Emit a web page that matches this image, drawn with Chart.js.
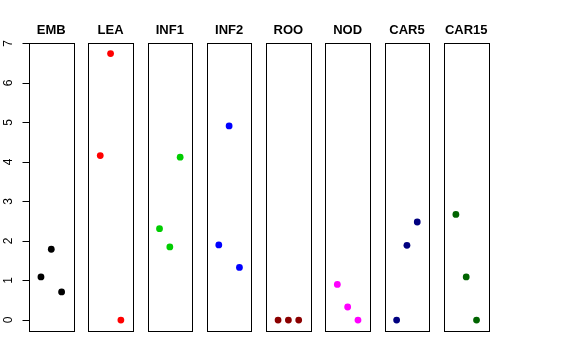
<!DOCTYPE html>
<html>
<head>
<meta charset="utf-8">
<script src="https://cdn.jsdelivr.net/npm/chart.js@4/dist/chart.umd.min.js"></script>
<style>
html,body{margin:0;padding:0;background:#fff;}
#wrap{width:576px;height:360px;}
</style>
</head>
<body>
<div id="wrap"><canvas id="c" width="576" height="360"></canvas></div>
<script>
// Data
const categories = ['EMB', 'LEA', 'INF1', 'INF2', 'ROO', 'NOD', 'CAR5', 'CAR15'];
const rep1 = [1.09, 4.16, 2.31, 1.90, 0, 0.90, 0, 2.67];
const rep2 = [1.79, 6.74, 1.85, 4.91, 0, 0.33, 1.89, 1.09];
const rep3 = [0.71, 0, 4.12, 1.33, 0, 0, 2.48, 0];
const colors = ['#000000', '#FF0000', '#00CD00', '#0000FF', '#8B0000', '#FF00FF', '#000080', '#006400'];
const yTicks = [0, 1, 2, 3, 4, 5, 6, 7];

// panel layout in x-units (each panel: xlim 0..4 with 4% extension)
const PW = 4.32;   // panel width
const PS = 5.745;  // panel step
const EXT = 0.16;

const datasets = categories.map((cat, i) => ({
  label: cat,
  data: [rep1[i], rep2[i], rep3[i]].map((v, k) => ({ x: i * PS + EXT + (k + 1), y: v })),
  backgroundColor: colors[i],
  borderColor: colors[i],
  pointRadius: 3.4,
  pointBorderWidth: 0,
  showLine: false
}));

const panelPlugin = {
  id: 'panels',
  afterDatasetsDraw(chart) {
    const ctx = chart.ctx;
    const xs = chart.scales.x, ys = chart.scales.y;
    const top = Math.round(ys.getPixelForValue(ys.max)) + 0.5;
    const bot = Math.round(ys.getPixelForValue(ys.min)) + 0.5;
    ctx.save();
    ctx.strokeStyle = '#000';
    ctx.lineWidth = 1;
    categories.forEach((cat, i) => {
      const l = Math.round(xs.getPixelForValue(i * PS)) + 0.5;
      const r = Math.round(xs.getPixelForValue(i * PS + PW)) + 0.5;
      ctx.strokeRect(l, top, r - l, bot - top);
      ctx.fillStyle = '#000';
      ctx.font = 'bold 13px "Liberation Sans", Arial, sans-serif';
      ctx.textAlign = 'center';
      ctx.textBaseline = 'alphabetic';
      ctx.fillText(cat, xs.getPixelForValue(i * PS + PW / 2), 34);
    });
    // y axis
    const ax = Math.round(xs.getPixelForValue(0)) + 0.5;
    const y0 = Math.round(ys.getPixelForValue(yTicks[0])) + 0.5;
    const y1 = Math.round(ys.getPixelForValue(yTicks[yTicks.length - 1])) + 0.5;
    ctx.beginPath();
    ctx.moveTo(ax, y0); ctx.lineTo(ax, y1);
    yTicks.forEach(t => {
      const y = Math.round(ys.getPixelForValue(t)) + 0.5;
      ctx.moveTo(ax, y); ctx.lineTo(ax - 7, y);
    });
    ctx.stroke();
    ctx.font = '12px "Liberation Sans", Arial, sans-serif';
    ctx.textAlign = 'center';
    ctx.textBaseline = 'middle';
    yTicks.forEach(t => {
      const y = ys.getPixelForValue(t);
      ctx.save();
      ctx.translate(9, y);
      ctx.rotate(-Math.PI / 2);
      ctx.fillText(String(t), 0, 0);
      ctx.restore();
    });
    ctx.restore();
  }
};

new Chart(document.getElementById('c'), {
  type: 'scatter',
  data: { datasets },
  options: {
    responsive: false,
    animation: false,
    layout: { padding: { left: 29, right: 87.5, top: 42.5, bottom: 29.3 } },
    plugins: { legend: { display: false }, tooltip: { enabled: false }, title: { display: false } },
    scales: {
      x: { type: 'linear', display: false, min: 0, max: 7 * PS + PW },
      y: { type: 'linear', display: false, min: -0.27, max: 7.02 }
    }
  },
  plugins: [panelPlugin]
});
</script>
</body>
</html>
